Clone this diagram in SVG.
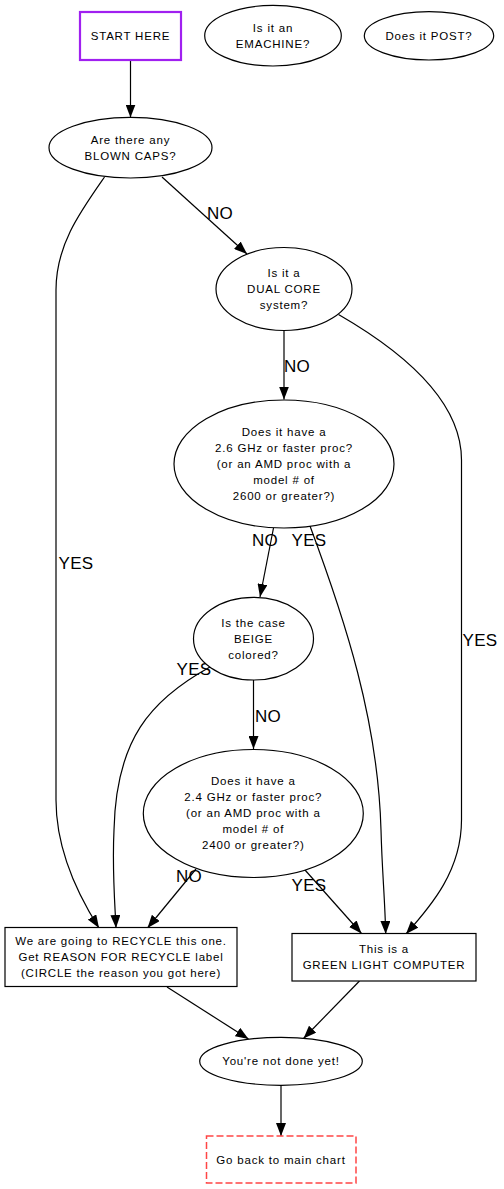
<svg xmlns="http://www.w3.org/2000/svg" width="504" height="1189" viewBox="0 0 504 1189">
<style>
.bg{fill:#ffffff}
.n{fill:#ffffff;stroke:#000000;stroke-width:1.2}
.start{fill:#ffffff;stroke:#a020f0;stroke-width:2.2}
.back{fill:#ffffff;stroke:#ff4545;stroke-width:1.5;stroke-dasharray:7,3}
.t{font-family:"Liberation Sans",Arial,sans-serif;font-size:11.5px;letter-spacing:0.8px;fill:#000000;text-anchor:middle}
.l{font-family:"Liberation Sans",Arial,sans-serif;font-size:17px;letter-spacing:0.3px;fill:#000000;text-anchor:middle}
.e{fill:none;stroke:#000000;stroke-width:1.2;marker-end:url(#ah)}
</style>
<defs>
<marker id="ah" viewBox="0 0 13 10" refX="13" refY="5" markerWidth="13" markerHeight="10" markerUnits="userSpaceOnUse" orient="auto">
<path d="M0,0 L13,5 L0,10 z" fill="#000000"/>
</marker>
</defs>
<rect class="bg" x="0" y="0" width="504" height="1189"/>
<g id="connectors">
<path class="e" d="M130.5,61 L130.5,117.5"/>
<path class="e" d="M162,177 L247,254"/>
<path class="e" d="M104.5,177 C80,212 56,245 56,290 L56,800 C56,850 78,895 99,928"/>
<path class="e" d="M338.5,314.5 C400,350 461.5,400 461.5,460 L461.5,820 C461.5,870 432,905 406,934"/>
<path class="e" d="M284,331 L284,399.5"/>
<path class="e" d="M273.5,528 L260,597"/>
<path class="e" d="M310,526 C345,620 378,720 381,830 C382,870 385,900 385.7,934"/>
<path class="e" d="M210,667 C150,700 116,740 114,830 C112,870 115,905 116,928"/>
<path class="e" d="M253.5,680 L253.5,749"/>
<path class="e" d="M196,869 L147.5,928"/>
<path class="e" d="M305,870 L361.5,933.5"/>
<path class="e" d="M167,987 L248.5,1039"/>
<path class="e" d="M359.5,981 L303.5,1038.5"/>
<path class="e" d="M281,1085.5 L281,1136"/>
<text class="l" x="220" y="219">NO</text>
<text class="l" x="297" y="371.5">NO</text>
<text class="l" x="265" y="545.5">NO</text>
<text class="l" x="309" y="545.5">YES</text>
<text class="l" x="76" y="569">YES</text>
<text class="l" x="194" y="675">YES</text>
<text class="l" x="268" y="721.5">NO</text>
<text class="l" x="480" y="645.5">YES</text>
<text class="l" x="189" y="881.5">NO</text>
<text class="l" x="309" y="890.5">YES</text>
</g>
<g id="start">
<rect class="start" x="80" y="12" width="101" height="48"/>
<text class="t" x="130.5" y="40">START HERE</text>
</g>
<g id="emachine">
<ellipse class="n" cx="273" cy="35.7" rx="68.3" ry="30.3"/>
<text class="t" x="273" y="32.3">Is it an</text>
<text class="t" x="273" y="48.3">EMACHINE?</text>
</g>
<g id="post">
<ellipse class="n" cx="429" cy="35.8" rx="64.7" ry="24.2"/>
<text class="t" x="429" y="40">Does it POST?</text>
</g>
<g id="blowncaps">
<ellipse class="n" cx="130.5" cy="147.7" rx="81.5" ry="30.3"/>
<text class="t" x="130.5" y="144.3">Are there any</text>
<text class="t" x="130.5" y="160.3">BLOWN CAPS?</text>
</g>
<g id="dualcore">
<ellipse class="n" cx="284" cy="289" rx="68" ry="41.5"/>
<text class="t" x="284" y="277">Is it a</text>
<text class="t" x="284" y="293">DUAL CORE</text>
<text class="t" x="284" y="309">system?</text>
</g>
<g id="ghz26">
<ellipse class="n" cx="284" cy="464" rx="110" ry="64"/>
<text class="t" x="284" y="436">Does it have a</text>
<text class="t" x="284" y="452">2.6 GHz or faster proc?</text>
<text class="t" x="284" y="468">(or an AMD proc with a</text>
<text class="t" x="284" y="484">model # of</text>
<text class="t" x="284" y="500">2600 or greater?)</text>
</g>
<g id="beige">
<ellipse class="n" cx="253.5" cy="638.7" rx="60" ry="41.3"/>
<text class="t" x="253.5" y="626.7">Is the case</text>
<text class="t" x="253.5" y="642.7">BEIGE</text>
<text class="t" x="253.5" y="658.7">colored?</text>
</g>
<g id="ghz24">
<ellipse class="n" cx="253.3" cy="813.5" rx="110" ry="64"/>
<text class="t" x="253.3" y="785">Does it have a</text>
<text class="t" x="253.3" y="801">2.4 GHz or faster proc?</text>
<text class="t" x="253.3" y="817">(or an AMD proc with a</text>
<text class="t" x="253.3" y="833">model # of</text>
<text class="t" x="253.3" y="849">2400 or greater?)</text>
</g>
<g id="recycle">
<rect class="n" x="5" y="927.5" width="232" height="59"/>
<text class="t" x="121" y="945">We are going to RECYCLE this one.</text>
<text class="t" x="121" y="961">Get REASON FOR RECYCLE label</text>
<text class="t" x="121" y="977">(CIRCLE the reason you got here)</text>
</g>
<g id="green">
<rect class="n" x="292" y="933.5" width="184" height="47.5"/>
<text class="t" x="384" y="952.7">This is a</text>
<text class="t" x="384" y="968.7">GREEN LIGHT COMPUTER</text>
</g>
<g id="notdone">
<ellipse class="n" cx="281" cy="1061.3" rx="81.3" ry="24"/>
<text class="t" x="281" y="1065">You're not done yet!</text>
</g>
<g id="goback">
<rect class="back" x="206.5" y="1136" width="149.5" height="47"/>
<text class="t" x="281" y="1164">Go back to main chart</text>
</g>
</svg>
